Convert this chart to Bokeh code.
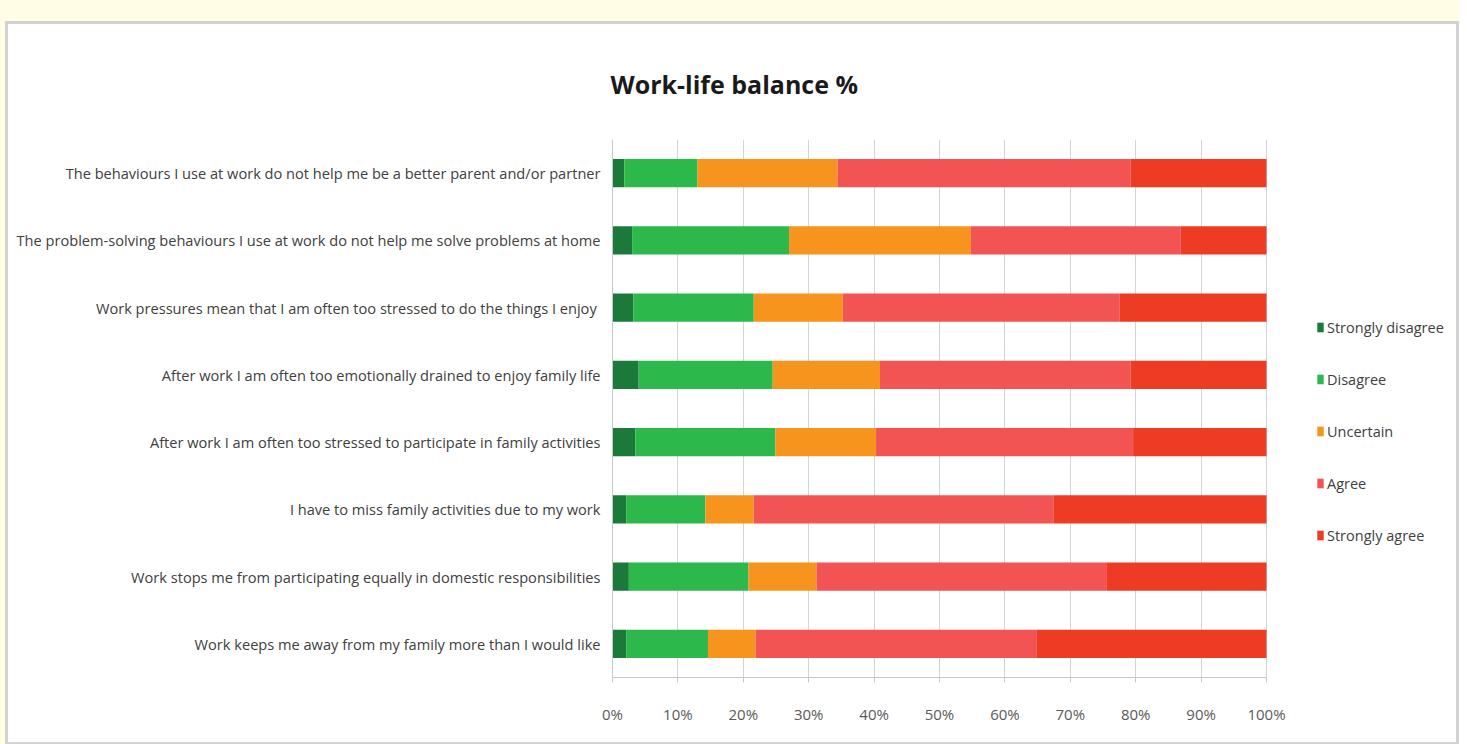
from bokeh.plotting import figure
from bokeh.models import (ColumnDataSource, FactorRange, Range1d, FixedTicker, Legend, LegendItem, Column)
from bokeh.embed import file_html
from bokeh.resources import INLINE

categories = [
    "The behaviours I use at work do not help me be a better parent and/or partner",
    "The problem-solving behaviours I use at work do not help me solve problems at home",
    "Work pressures mean that I am often too stressed  to do the things I enjoy",
    "After work I am often too emotionally drained to enjoy family life",
    "After work I am often too stressed to participate in family activities",
    "I have to miss family activities due to my work",
    "Work stops me from participating equally in domestic responsibilities",
    "Work keeps me away from my family more than I would like",
]
series_names = ["Strongly disagree", "Disagree", "Uncertain", "Agree", "Strongly agree"]
strongly_disagree = [1.8, 3.0, 3.2, 4.0, 3.5, 2.1, 2.5, 2.1]
disagree = [11.2, 24.0, 18.4, 20.5, 21.4, 12.1, 18.3, 12.5]
uncertain = [21.4, 27.8, 13.6, 16.4, 15.4, 7.4, 10.4, 7.3]
agree = [44.8, 32.1, 42.3, 38.3, 39.3, 45.8, 44.4, 42.9]
strongly_agree = [20.8, 13.1, 22.5, 20.8, 20.4, 32.6, 24.4, 35.2]
x_ticks = [0, 10, 20, 30, 40, 50, 60, 70, 80, 90, 100]
x_tick_labels = ["0%", "10%", "20%", "30%", "40%", "50%", "60%", "70%", "80%", "90%", "100%"]

colors = ["#1b7a3a", "#2db84b", "#f7941e", "#f25353", "#ee3b24"]
keys = ["sd", "d", "u", "a", "sa"]

source = ColumnDataSource(dict(cat=categories, sd=strongly_disagree, d=disagree,
                               u=uncertain, a=agree, sa=strongly_agree))

# frame extends past 100% to leave room for the legend (axis and grid bounded to 0-100)
p = figure(width=1448, height=718, output_backend="svg", toolbar_location=None,
           x_range=Range1d(0, 127.52), y_range=FactorRange(*reversed(categories)),
           min_border_left=604, min_border_right=10, min_border_top=115, min_border_bottom=65,
           title="Work-life balance %")
p.outline_line_color = None
p.background_fill_color = "white"
p.border_fill_color = "white"

renderers = p.hbar_stack(keys, y="cat", height=0.42, color=colors, line_color=None, source=source)

p.title.text_font = "Open Sans"
p.title.text_font_style = "bold"
p.title.text_font_size = "25px"
p.title.text_color = "#1a1a1a"
p.title.align = "left"
p.title.offset = -2
p.title.standoff = 77

p.xaxis.ticker = FixedTicker(ticks=x_ticks)
p.xaxis.bounds = (0, 100)
p.xaxis.major_label_overrides = {t: l for t, l in zip(x_ticks, x_tick_labels)}
p.xaxis.major_label_text_font = "Open Sans"
p.xaxis.major_label_text_font_size = "15px"
p.xaxis.major_label_text_color = "#595959"
p.xaxis.major_label_standoff = 21
p.xaxis.major_tick_out = 5
p.xaxis.major_tick_in = 0
p.xaxis.minor_tick_line_color = None
p.xaxis.axis_line_color = "#c8c8c8"
p.xaxis.major_tick_line_color = "#c8c8c8"

p.yaxis.major_label_text_font = "Open Sans"
p.yaxis.major_label_text_font_size = "14.6px"
p.yaxis.major_label_text_color = "#404040"
p.yaxis.major_label_standoff = 12
p.yaxis.major_tick_out = 0
p.yaxis.major_tick_in = 0
p.yaxis.axis_line_color = "#c8c8c8"

p.xgrid.ticker = FixedTicker(ticks=x_ticks)
p.xgrid.bounds = (0, 100)
p.xgrid.grid_line_color = "#d4d4dc"
p.ygrid.grid_line_color = None

legend = Legend(items=[LegendItem(label=n, renderers=[r]) for n, r in zip(series_names, renderers)],
                location=(704, 132))
legend.label_text_font = "Open Sans"
legend.label_text_font_size = "14.5px"
legend.label_text_color = "#404040"
legend.glyph_width = 8
legend.glyph_height = 12
legend.label_height = 20
legend.label_standoff = 3
legend.spacing = 32
legend.padding = 0
legend.margin = 0
legend.border_line_color = None
legend.background_fill_alpha = 0
p.add_layout(legend, "center")

inner = Column(children=[p], styles={"border": "3px solid #d2d2d2", "background-color": "white"})
outer = Column(children=[inner], styles={"background-color": "#fffde6", "padding-top": "21px",
                                         "padding-left": "5px"})

open("out.html", "w").write(file_html(outer, INLINE))
